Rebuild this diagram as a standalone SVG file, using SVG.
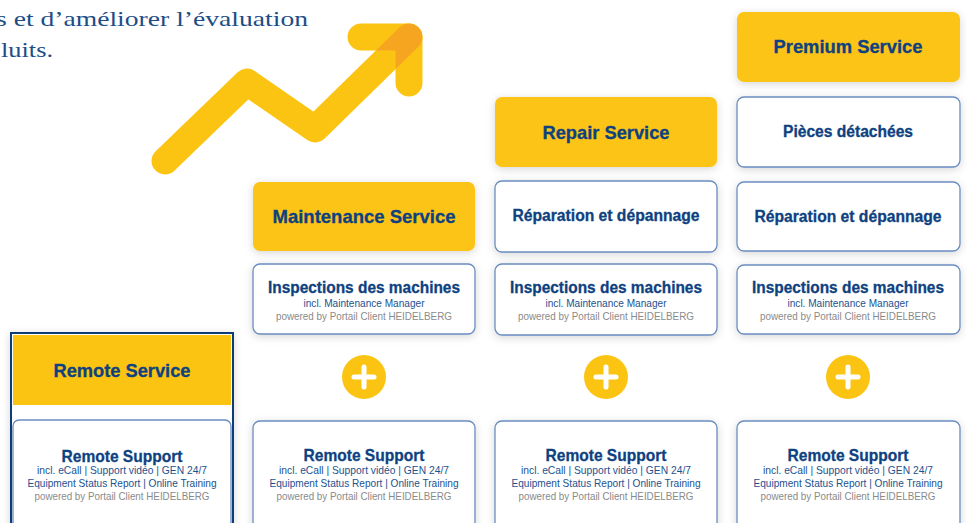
<svg xmlns="http://www.w3.org/2000/svg" width="967" height="523" viewBox="0 0 967 523">
  <defs>
    <style>
      .yel { fill: #fcc412; }
      .card { fill: #ffffff; stroke: #6a8cc0; stroke-width: 1.3; }
      .sh { filter: url(#shadow); }
      .head { font-family: "Liberation Sans", Arial, sans-serif; font-weight: bold; fill: #0e4180; stroke: #0e4180; stroke-width: 0.3; text-anchor: middle; }
      .h1 { font-size: 19px; }
      .h2 { font-size: 16px; }
      .h3 { font-size: 16.5px; }
      .sub { font-family: "Liberation Sans", Arial, sans-serif; font-size: 11px; fill: #1c528f; text-anchor: middle; }
      .grey { font-family: "Liberation Sans", Arial, sans-serif; font-size: 11px; fill: #8a8a8a; text-anchor: middle; }
      .intro { font-family: "Liberation Serif", "Times New Roman", serif; font-size: 22px; fill: #1d4d86; }
      .arrow { fill: none; stroke: #fcc412; stroke-width: 27; stroke-linecap: round; stroke-linejoin: round; }
    </style>
    <filter id="shadow" x="-15%" y="-20%" width="130%" height="150%">
      <feDropShadow dx="0" dy="2" stdDeviation="4" flood-color="#000000" flood-opacity="0.16"/>
    </filter>
    <mask id="headMask" maskUnits="userSpaceOnUse" x="0" y="0" width="967" height="523">
      <polyline points="361,37 409,37 409,83" fill="none" stroke="#fff" stroke-width="27" stroke-linecap="round" stroke-linejoin="round"/>
    </mask>
    <g id="plus">
      <circle cx="0" cy="0" r="22" fill="#fcc412"/>
      <path d="M-10,0 H10 M0,-10 V10" stroke="#ffffff" stroke-width="5" stroke-linecap="round"/>
    </g>
  </defs>

  <rect width="967" height="523" fill="#ffffff"/>

  <!-- intro text (paragraph continues beyond the left edge) -->
  <text class="intro" x="-4" y="26" textLength="312" lengthAdjust="spacingAndGlyphs">s et d’améliorer l’évaluation</text>
  <text class="intro" x="1" y="57" textLength="52" lengthAdjust="spacingAndGlyphs">luits.</text>

  <!-- growth arrow -->
  <g id="growth-arrow">
    <polyline class="arrow" points="165,161 247,82 315,129 409,37"/>
    <polyline class="arrow" points="361,37 409,37 409,83"/>
    <polyline points="315,129 409,37" fill="none" stroke="#f6a521" stroke-width="27" stroke-linecap="round" mask="url(#headMask)"/>
  </g>

  <!-- Remote Service -->
  <g id="remote-service">
    <rect class="sh" x="11" y="333" width="222" height="200" fill="#ffffff" stroke="#0c3d78" stroke-width="2"/>
    <rect class="yel" x="13" y="335" width="218" height="70"/>
    <text class="head h1" x="122" y="377" textLength="137" lengthAdjust="spacingAndGlyphs">Remote Service</text>
    <rect class="card" x="13" y="420" width="218" height="120" rx="6"/>
    <text class="head h3" x="122" y="462" textLength="121" lengthAdjust="spacingAndGlyphs">Remote Support</text>
    <text class="sub" x="122" y="474" textLength="170" lengthAdjust="spacingAndGlyphs">incl. eCall | Support vidéo | GEN 24/7</text>
    <text class="sub" x="122" y="487" textLength="189" lengthAdjust="spacingAndGlyphs">Equipment Status Report | Online Training</text>
    <text class="grey" x="122" y="500" textLength="175" lengthAdjust="spacingAndGlyphs">powered by Portail Client HEIDELBERG</text>
  </g>

  <!-- Maintenance Service -->
  <g id="maintenance-service">
    <rect class="yel sh" x="253" y="182" width="222" height="69" rx="7"/>
    <text class="head h1" x="364" y="223" textLength="183" lengthAdjust="spacingAndGlyphs">Maintenance Service</text>
    <rect class="card sh" x="253" y="264" width="222" height="70" rx="7"/>
    <text class="head h3" x="364" y="293" textLength="192" lengthAdjust="spacingAndGlyphs">Inspections des machines</text>
    <text class="sub" x="364" y="307" textLength="121" lengthAdjust="spacingAndGlyphs">incl. Maintenance Manager</text>
    <text class="grey" x="364" y="320" textLength="176" lengthAdjust="spacingAndGlyphs">powered by Portail Client HEIDELBERG</text>
    <use href="#plus" x="364" y="377"/>
    <rect class="card sh" x="253" y="421" width="222" height="120" rx="7"/>
    <text class="head h3" x="364" y="461" textLength="121" lengthAdjust="spacingAndGlyphs">Remote Support</text>
    <text class="sub" x="364" y="474" textLength="170" lengthAdjust="spacingAndGlyphs">incl. eCall | Support vidéo | GEN 24/7</text>
    <text class="sub" x="364" y="487" textLength="189" lengthAdjust="spacingAndGlyphs">Equipment Status Report | Online Training</text>
    <text class="grey" x="364" y="500" textLength="175" lengthAdjust="spacingAndGlyphs">powered by Portail Client HEIDELBERG</text>
  </g>

  <!-- Repair Service -->
  <g id="repair-service">
    <rect class="yel sh" x="495" y="97" width="222" height="70" rx="7"/>
    <text class="head h1" x="606" y="139" textLength="127" lengthAdjust="spacingAndGlyphs">Repair Service</text>
    <rect class="card sh" x="495" y="181" width="222" height="71" rx="7"/>
    <text class="head h2" x="606" y="221" textLength="187" lengthAdjust="spacingAndGlyphs">Réparation et dépannage</text>
    <rect class="card sh" x="495" y="264" width="222" height="71" rx="7"/>
    <text class="head h3" x="606" y="293" textLength="192" lengthAdjust="spacingAndGlyphs">Inspections des machines</text>
    <text class="sub" x="606" y="307" textLength="121" lengthAdjust="spacingAndGlyphs">incl. Maintenance Manager</text>
    <text class="grey" x="606" y="320" textLength="176" lengthAdjust="spacingAndGlyphs">powered by Portail Client HEIDELBERG</text>
    <use href="#plus" x="606" y="377"/>
    <rect class="card sh" x="495" y="421" width="222" height="120" rx="7"/>
    <text class="head h3" x="606" y="461" textLength="121" lengthAdjust="spacingAndGlyphs">Remote Support</text>
    <text class="sub" x="606" y="474" textLength="170" lengthAdjust="spacingAndGlyphs">incl. eCall | Support vidéo | GEN 24/7</text>
    <text class="sub" x="606" y="487" textLength="189" lengthAdjust="spacingAndGlyphs">Equipment Status Report | Online Training</text>
    <text class="grey" x="606" y="500" textLength="175" lengthAdjust="spacingAndGlyphs">powered by Portail Client HEIDELBERG</text>
  </g>

  <!-- Premium Service -->
  <g id="premium-service">
    <rect class="yel sh" x="737" y="12" width="223" height="70" rx="7"/>
    <text class="head h1" x="848" y="53" textLength="149" lengthAdjust="spacingAndGlyphs">Premium Service</text>
    <rect class="card sh" x="737" y="97" width="223" height="70" rx="7"/>
    <text class="head h2" x="848" y="137" textLength="130" lengthAdjust="spacingAndGlyphs">Pièces détachées</text>
    <rect class="card sh" x="737" y="182" width="223" height="69" rx="7"/>
    <text class="head h2" x="848" y="222" textLength="187" lengthAdjust="spacingAndGlyphs">Réparation et dépannage</text>
    <rect class="card sh" x="737" y="265" width="223" height="69" rx="7"/>
    <text class="head h3" x="848" y="293" textLength="192" lengthAdjust="spacingAndGlyphs">Inspections des machines</text>
    <text class="sub" x="848" y="307" textLength="121" lengthAdjust="spacingAndGlyphs">incl. Maintenance Manager</text>
    <text class="grey" x="848" y="320" textLength="176" lengthAdjust="spacingAndGlyphs">powered by Portail Client HEIDELBERG</text>
    <use href="#plus" x="848" y="377"/>
    <rect class="card sh" x="737" y="421" width="223" height="120" rx="7"/>
    <text class="head h3" x="848" y="461" textLength="121" lengthAdjust="spacingAndGlyphs">Remote Support</text>
    <text class="sub" x="848" y="474" textLength="170" lengthAdjust="spacingAndGlyphs">incl. eCall | Support vidéo | GEN 24/7</text>
    <text class="sub" x="848" y="487" textLength="189" lengthAdjust="spacingAndGlyphs">Equipment Status Report | Online Training</text>
    <text class="grey" x="848" y="500" textLength="175" lengthAdjust="spacingAndGlyphs">powered by Portail Client HEIDELBERG</text>
  </g>
</svg>
